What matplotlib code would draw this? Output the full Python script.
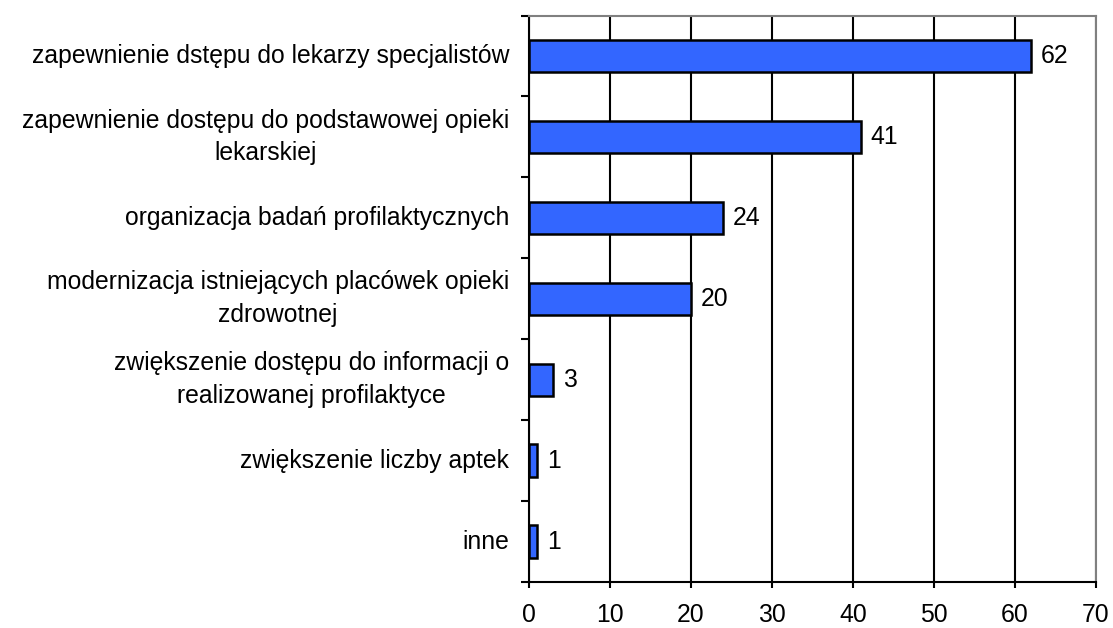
import matplotlib
matplotlib.use("Agg")
from matplotlib import pyplot as plt
from matplotlib.transforms import offset_copy
import numpy as np

categories = [
    "zapewnienie dstępu do lekarzy specjalistów",
    "zapewnienie dostępu do podstawowej opieki\nlekarskiej",
    "organizacja badań profilaktycznych",
    "modernizacja istniejących placówek opieki\nzdrowotnej",
    "zwiększenie dostępu do informacji o\nrealizowanej profilaktyce",
    "zwiększenie liczby aptek",
    "inne",
]
values = [62, 41, 24, 20, 3, 1, 1]
xticks = [0, 10, 20, 30, 40, 50, 60, 70]

plt.rcParams['font.family'] = ['Liberation Sans', 'DejaVu Sans']
fs = 17.8

fig = plt.figure(figsize=(11.13, 6.28), dpi=100)
ax = fig.add_axes([0.4753, 0.0732, 0.5094, 0.9021])

n = len(categories)
y = np.arange(n)
ax.barh(y, values, height=0.40, color='#3366ff', edgecolor='black', linewidth=1.8, zorder=3)
for yi, v in zip(y, values):
    ax.text(v + 1.2, yi, str(v), va='center', ha='left', fontsize=fs)

ax.set_xlim(0, 70)
ax.set_ylim(n - 0.5, -0.5)
ax.set_xticks(xticks)
ax.tick_params(axis='x', length=4.5, width=1.5, direction='out', pad=10.5, labelsize=fs)
ax.xaxis.grid(True, color='black', linewidth=1.5, zorder=0)

# category labels placed between boundary ticks
ax.set_yticks(np.arange(n + 1) - 0.5)
ax.set_yticklabels([])
ax.tick_params(axis='y', length=5.5, width=1.5, direction='out')
lab_tr = offset_copy(ax.get_yaxis_transform(), fig=fig, x=-20, y=0, units='dots')
for yi, lab in zip(y, categories):
    ax.text(0, yi, lab, transform=lab_tr, ha='right', va='center',
            multialignment='center', fontsize=fs, linespacing=1.45)

for s in ['top', 'right']:
    ax.spines[s].set_color('#808080')
    ax.spines[s].set_linewidth(1.5)
for s in ['left', 'bottom']:
    ax.spines[s].set_color('black')
    ax.spines[s].set_linewidth(1.5)

fig.savefig('out.png', dpi=100)
